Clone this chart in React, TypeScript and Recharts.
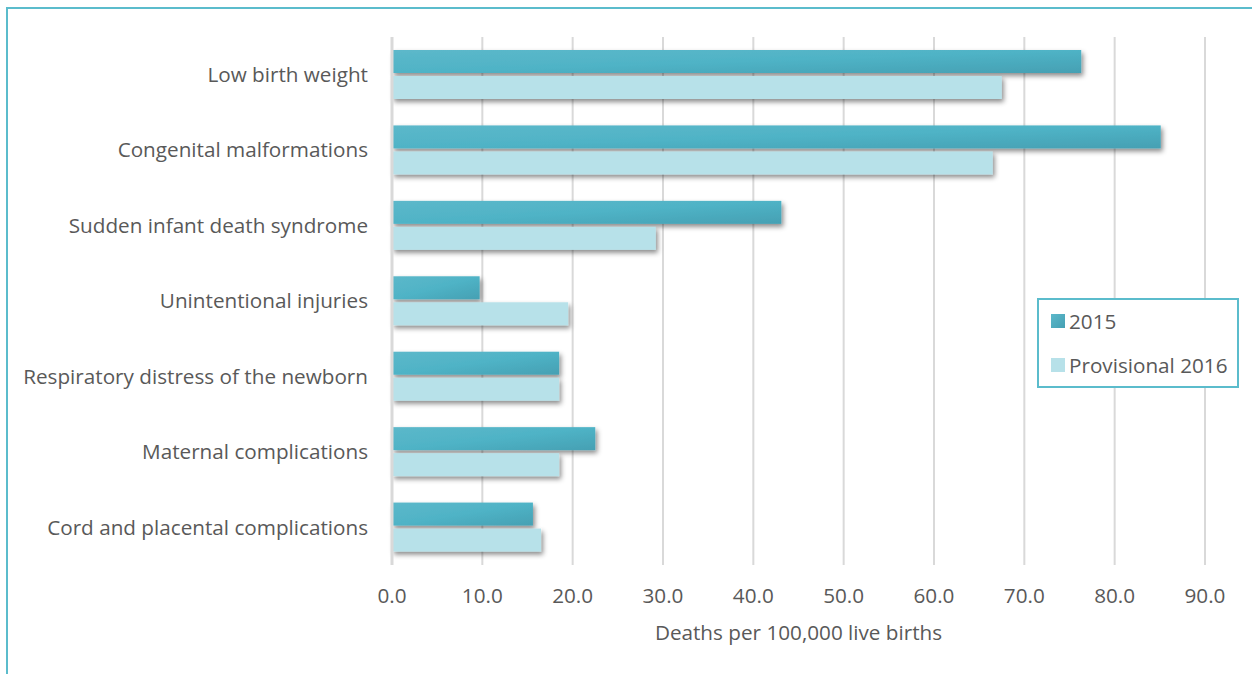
import React from "react";
import { Bar, BarChart, CartesianGrid, Legend, XAxis, YAxis } from "recharts";

const CATEGORIES = [
  "Low birth weight",
  "Congenital malformations",
  "Sudden infant death syndrome",
  "Unintentional injuries",
  "Respiratory distress of the newborn",
  "Maternal complications",
  "Cord and placental complications",
];
const VALUES_2015 = [76.3, 85.1, 43.1, 9.7, 18.5, 22.5, 15.6];
const VALUES_2016 = [67.5, 66.5, 29.2, 19.5, 18.5, 18.5, 16.5];
const X_TICKS = [0, 10, 20, 30, 40, 50, 60, 70, 80, 90];

const TEAL = "#5bbccc";
const LIGHT = "#b7e1e9";
const TEXT = "#595959";
const GRID = "#d9d9d9";
const FONT = "'Open Sans', sans-serif";
const FS = 20.7;

const data = CATEGORIES.map((name, i) => ({
  name,
  y2015: VALUES_2015[i],
  y2016: VALUES_2016[i],
}));

function ShadowBar(fill: string) {
  return (p: any) => (
    <rect
      x={p.x}
      y={p.y}
      width={p.width}
      height={p.height}
      fill={fill}
      filter="url(#barShadow)"
    />
  );
}

function LegendBox() {
  return (
    <div
      style={{
        position: "absolute",
        left: 1037,
        top: 298,
        width: 198,
        height: 86,
        border: `2px solid ${TEAL}`,
        background: "#fff",
        fontFamily: FONT,
        fontSize: FS,
        color: TEXT,
      }}
    >
      <div style={{ position: "absolute", left: 12, top: 7, display: "flex", alignItems: "center" }}>
        <span style={{ width: 14, height: 14, background: "linear-gradient(135deg,#5cb8ca,#45a0b3)", marginRight: 4 }} />
        <span>2015</span>
      </div>
      <div style={{ position: "absolute", left: 12, top: 51, display: "flex", alignItems: "center" }}>
        <span style={{ width: 14, height: 14, background: LIGHT, marginRight: 4 }} />
        <span>Provisional 2016</span>
      </div>
    </div>
  );
}

export default function App() {
  return (
    <div
      style={{
        position: "absolute",
        left: 0,
        top: 0,
        width: 1252,
        height: 674,
        overflow: "hidden",
        background: "#fff",
      }}
    >
      <div
        style={{
          position: "absolute",
          left: 6,
          top: 7,
          width: 1400,
          height: 900,
          border: `2px solid ${TEAL}`,
        }}
      />
      <div style={{ position: "absolute", left: 0, top: 0 }}>
        <BarChart
          width={1252}
          height={674}
          data={data}
          layout="vertical"
          margin={{ top: 37, right: 47, left: 0, bottom: 0 }}
          barSize={23}
          barGap={3}
        >
          <defs>
            <linearGradient id="grad2015" x1="0" y1="0" x2="1" y2="1">
              <stop offset="0%" stopColor="#5cb8ca" />
              <stop offset="50%" stopColor="#4fb3c6" />
              <stop offset="100%" stopColor="#45a0b3" />
            </linearGradient>
            <filter id="barShadow" x="-5%" y="-30%" width="115%" height="190%">
              <feDropShadow dx="2" dy="3" stdDeviation="2.5" floodColor="#000" floodOpacity="0.45" />
            </filter>
          </defs>
          <CartesianGrid horizontal={false} stroke={GRID} strokeWidth={2} />
          <XAxis
            type="number"
            domain={[0, 90]}
            ticks={X_TICKS}
            tickFormatter={(v: number) => v.toFixed(1)}
            tick={{ fontSize: FS, fill: TEXT, fontFamily: FONT }}
            tickLine={false}
            axisLine={false}
            tickSize={0}
            tickMargin={23}
            height={109}
            label={{
              value: "Deaths per 100,000 live births",
              position: "insideBottom",
              offset: 34,
              fontSize: FS,
              fill: TEXT,
              fontFamily: FONT,
            }}
          />
          <YAxis
            type="category"
            dataKey="name"
            width={392}
            tick={{ fontSize: FS, fill: TEXT, fontFamily: FONT }}
            tickLine={false}
            axisLine={{ stroke: GRID, strokeWidth: 3 }}
            tickSize={0}
            tickMargin={24}
          />
          <Bar
            dataKey="y2015"
            name="2015"
            fill="url(#grad2015)"
            shape={ShadowBar("url(#grad2015)")}
            isAnimationActive={false}
          />
          <Bar
            dataKey="y2016"
            name="Provisional 2016"
            fill={LIGHT}
            shape={ShadowBar(LIGHT)}
            isAnimationActive={false}
          />
          <Legend content={() => null} />
        </BarChart>
      </div>
      <LegendBox />
    </div>
  );
}
